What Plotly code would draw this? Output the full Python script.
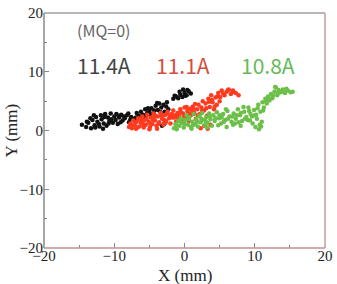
import plotly.graph_objects as go

black_x = [-14.6,-14.0,-13.7,-13.3,-13.1,-12.8,-12.6,-12.4,-12.1,-11.9,-11.8,-11.5,-11.3,-11.1,-10.9,-10.7,-10.5,-10.2,-10.0,-9.8,-9.5,-9.3,-9.0,-8.8,-8.5,-8.2,-7.9,-7.6,-7.3,-7.0,-6.8,-6.5,-6.2,-5.9,-5.6,-5.3,-5.0,-4.7,-4.4,-4.1,-3.8,-3.6,-3.3,-3.0,-2.8,-2.5,-2.3,-3.2,-2.9,-1.6,-1.2,-0.9,-0.6,-0.3,0.0,0.3,0.6,0.9,-0.2,0.4,-12.9,-11.6,-9.7,-8.0,
           -13.9,-13.4,-12.2,-11.4,-10.4,-9.1,-8.6,-7.7,-6.9,-5.5,-4.9,-4.3,-3.4,-2.6,-1.4,-0.7,0.1,-12.7,-10.8,-9.4,-5.2,-3.9]
black_y = [1.0,0.6,1.3,0.4,1.8,0.9,2.3,1.5,0.7,2.6,1.9,1.2,2.8,0.8,2.2,1.6,2.9,1.3,2.4,1.8,1.1,2.2,2.7,1.7,2.1,2.6,1.4,2.3,2.0,1.6,3.0,2.5,3.2,2.7,3.6,3.0,3.3,3.8,2.9,4.2,3.5,4.6,3.9,4.4,3.2,4.8,3.6,0.8,1.1,5.4,5.8,5.5,6.1,5.7,6.4,6.0,6.7,6.3,7.0,6.9,2.6,0.3,2.8,2.9,
           1.5,2.1,1.1,2.3,1.9,1.4,2.4,1.9,2.2,2.4,2.8,3.4,3.1,4.1,5.9,6.6,5.9,0.5,1.2,2.5,3.8,4.7]

red_x = [-7.9,-7.7,-7.5,-7.3,-7.1,-6.9,-6.8,-6.6,-6.4,-6.2,-6.0,-5.8,-5.7,-5.5,-5.3,-5.1,-4.9,-4.8,-4.6,-4.4,-4.2,-4.0,-3.8,-3.6,-3.4,-3.2,-3.0,-2.8,-2.6,-2.4,-2.2,-2.0,-1.8,-1.6,-1.4,-1.2,-1.0,-0.8,-0.6,-0.4,-0.2,0.0,0.2,0.4,0.6,0.8,1.0,1.2,1.4,1.6,1.8,2.0,2.2,2.4,2.6,2.8,3.0,3.2,3.4,3.6,3.8,4.0,4.2,4.4,4.6,4.8,5.0,5.3,5.7,6.0,6.3,6.6,6.9,7.3,7.7,2.3,2.8,3.3,3.7,-5.0,-3.9,
         -7.6,-7.0,-6.7,-6.3,-5.9,-5.4,-5.0,-4.5,-4.1,-3.7,-3.3,-2.9,-2.5,-2.1,-1.7,-1.3,-0.9,-0.5,-0.1,0.3,0.7,1.1,1.5,1.9,2.5,3.1,3.5,3.9,4.3,4.7,5.1,5.5,6.2,6.8,-6.1,-4.3,-2.7,-1.1,0.5,1.3]
red_y = [0.6,1.2,0.4,1.7,0.9,0.3,1.5,2.1,0.7,1.3,2.4,0.5,1.8,1.0,2.7,1.5,0.6,2.2,1.1,2.9,1.7,0.8,2.4,1.4,3.0,2.0,1.0,2.6,1.6,3.2,2.1,1.2,2.8,3.4,2.2,1.5,3.0,2.5,3.6,1.8,2.9,3.9,2.3,3.3,1.6,3.7,2.7,4.1,3.0,2.0,3.6,4.4,2.8,3.9,5.0,3.4,4.6,2.5,5.4,4.0,6.0,4.8,3.6,5.6,4.4,6.4,5.0,6.8,6.0,6.6,7.0,6.2,6.8,6.4,6.0,0.4,0.8,0.3,1.0,0.2,0.3,
         0.9,1.3,0.5,1.9,1.1,2.0,1.3,1.8,2.5,1.1,2.6,1.8,2.9,2.6,2.2,2.6,2.1,3.1,2.4,4.0,2.9,3.4,4.5,2.6,3.3,3.8,4.9,5.2,4.1,5.8,5.7,6.3,6.9,6.5,1.8,2.4,1.3,2.4,2.5,3.7]

green_x = [-1.5,-1.3,-1.1,-0.9,-0.7,-0.5,-0.3,-0.1,0.1,0.3,0.5,0.7,0.9,1.1,1.3,1.5,1.7,1.9,2.1,2.3,2.5,2.7,2.9,3.1,3.3,3.5,3.7,3.9,4.1,4.3,4.6,4.9,5.2,5.5,5.8,6.1,6.4,6.7,7.0,7.3,7.6,7.9,8.2,8.5,8.8,9.1,9.4,9.7,9.9,10.1,10.3,10.5,10.6,10.8,11.0,11.1,11.3,11.5,11.7,11.9,12.1,12.3,12.5,12.8,13.0,13.2,13.4,13.7,14.0,14.3,14.7,15.1,15.4,8.0,6.0,12.9,
           -1.2,-0.6,0.0,0.6,1.2,1.8,2.4,3.0,3.6,4.4,5.0,5.6,6.2,6.8,7.4,8.0,8.6,9.2,9.6,10.2,10.7,11.2,11.6,12.0,12.6,13.3,13.9,14.5,1.0,3.2,5.3,7.2,9.0,10.4,
           4.8,5.9,6.9,7.7,8.4,9.3,10.0,10.9]
green_y = [0.4,1.1,0.2,1.6,0.8,2.1,1.3,0.5,1.8,2.6,1.0,2.2,0.6,1.5,2.8,1.1,2.0,0.7,2.5,1.4,3.0,1.8,0.9,2.3,1.3,2.9,1.9,0.8,2.6,1.6,3.1,2.1,1.2,2.8,1.8,3.3,2.4,1.5,2.9,2.0,3.6,2.6,1.6,3.2,2.3,3.9,2.8,1.2,3.5,0.6,2.0,4.4,0.2,3.2,1.5,4.8,3.9,5.4,4.6,5.8,5.1,6.2,5.5,6.6,7.3,6.0,6.9,6.5,7.0,6.4,6.8,6.5,6.6,0.8,0.6,7.4,
           0.8,1.5,1.1,1.9,0.9,1.5,2.0,1.6,2.4,2.1,2.6,1.5,2.0,2.4,2.6,3.0,2.0,3.3,2.4,2.7,1.0,3.4,5.0,5.5,5.9,6.4,6.7,7.1,0.3,0.5,2.2,1.2,1.8,3.8,
           0.9,3.6,1.0,1.4,4.0,1.7,2.6,0.7]

x_ticks = [-20, -10, 0, 10, 20]
y_ticks = [-20, -10, 0, 10, 20]

fig = go.Figure()
for xs, ys, c in [(black_x, black_y, "#111111"), (red_x, red_y, "#ff3a1e"), (green_x, green_y, "#6cbf48")]:
    fig.add_trace(go.Scatter(x=xs, y=ys, mode="markers",
                             marker=dict(size=4.5, color=c, line=dict(width=0)),
                             showlegend=False, hoverinfo="skip"))

tickfont = dict(family="Liberation Serif", size=15, color="#222")
fig.update_xaxes(range=[-20, 20], tickvals=x_ticks, ticks="inside", ticklen=5, tickcolor="#888",
                 minor=dict(dtick=5, ticks="inside", ticklen=3, tickcolor="#888"), ticklabelstandoff=-3,
                 showgrid=False, zeroline=False, showline=False, tickfont=tickfont, automargin=False)
fig.update_yaxes(range=[-20, 20], tickvals=y_ticks, ticks="inside", ticklen=5, tickcolor="#888",
                 minor=dict(dtick=5, ticks="inside", ticklen=3, tickcolor="#888"),
                 showgrid=False, zeroline=False, showline=False, tickfont=tickfont, automargin=False)

# axis titles
titlefont = dict(family="Liberation Serif", size=17, color="#222")
fig.add_annotation(xref="paper", yref="paper", x=0.5, y=-0.116, yanchor="middle", xanchor="center",
                   text="X (mm)", showarrow=False, font=titlefont)
fig.add_annotation(xref="paper", yref="paper", x=-0.114, y=0.5, yanchor="middle", xanchor="center",
                   text="Y (mm)", showarrow=False, textangle=-90, font=titlefont)

# frame
fig.add_shape(type="line", xref="paper", yref="paper", x0=0, x1=0, y0=0, y1=1, line=dict(color="#8a8a8a", width=1.5))
fig.add_shape(type="line", xref="paper", yref="paper", x0=0, x1=1, y0=1, y1=1, line=dict(color="#a0a0a0", width=1.5))
fig.add_shape(type="line", xref="paper", yref="paper", x0=0, x1=1, y0=0, y1=0, line=dict(color="#c09090", width=1.5))
fig.add_shape(type="line", xref="paper", yref="paper", x0=1, x1=1, y0=0, y1=1, line=dict(color="#c49a9a", width=1.5))

lab = "Noto Sans CJK JP"
fig.add_annotation(x=-15.6, y=17.1, text="(MQ=0)", showarrow=False, xanchor="left",
                   font=dict(family=lab, size=16, color="#666"))
fig.add_annotation(x=-15.6, y=11.1, text="11.4A", showarrow=False, xanchor="left",
                   font=dict(family=lab, size=21, color="#444"))
fig.add_annotation(x=-4.3, y=11.1, text="11.1A", showarrow=False, xanchor="left",
                   font=dict(family=lab, size=21, color="#d84a3c"))
fig.add_annotation(x=7.8, y=11.1, text="10.8A", showarrow=False, xanchor="left",
                   font=dict(family=lab, size=21, color="#63bb58"))

fig.update_layout(width=337, height=284, margin=dict(l=44, r=12, t=13, b=36),
                  plot_bgcolor="white", paper_bgcolor="white")
fig.write_html("out.html")
